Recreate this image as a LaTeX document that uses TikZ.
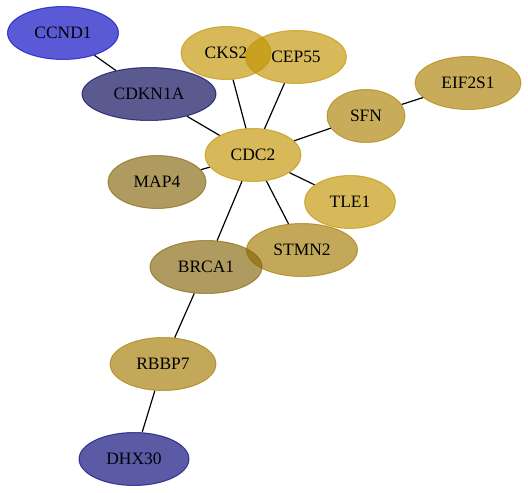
\documentclass[tikz,border=0pt]{standalone}
\usepackage{fontspec}
\setmainfont{Liberation Serif}
\usetikzlibrary{shapes.geometric}
\definecolor{cgoldA}{RGB}{193,147,0}
\definecolor{cgoldB}{RGB}{172,128,0}
\definecolor{cgoldC}{RGB}{163,121,0}
\definecolor{cgoldD}{RGB}{132,101,9}
\definecolor{cblueA}{RGB}{1,1,193}
\definecolor{cblueB}{RGB}{1,1,86}
\definecolor{cblueC}{RGB}{1,1,117}
\tikzset{
  gn/.style={ellipse, inner sep=0pt, fill=#1, fill opacity=0.65, draw=#1, draw opacity=0.65,
    line width=1bp, text opacity=1, text=black, minimum height=53bp,
    font=\fontsize{17.5}{20}\selectfont},
  edge/.style={black, line width=1.2bp}
}
\begin{document}
\begin{tikzpicture}[x=1bp,y=-1bp]
\useasboundingbox (0,0) rectangle (528,493);
% nodes
\node[gn=cblueA, minimum width=111bp] (ccnd1) at (63,33) {CCND1};
\node[gn=cblueB, minimum width=134bp] (cdkn1a) at (149,94) {CDKN1A};
\node[gn=cgoldA, minimum width=90bp] (cks2) at (226,53) {CKS2};
\node[gn=cgoldA, minimum width=101bp] (cep55) at (296,57) {CEP55};
\node[gn=cgoldB, minimum width=78bp] (sfn) at (366,116) {SFN};
\node[gn=cgoldB, minimum width=106bp] (eif2s1) at (468,83) {EIF2S1};
\node[gn=cgoldA, minimum width=96bp] (cdc2) at (253,155) {CDC2};
\node[gn=cgoldD, minimum width=98bp] (map4) at (157,182) {MAP4};
\node[gn=cgoldA, minimum width=91bp] (tle1) at (350,202) {TLE1};
\node[gn=cgoldC, minimum width=111bp] (stmn2) at (302,250) {STMN2};
\node[gn=cgoldD, minimum width=112bp] (brca1) at (206,267) {BRCA1};
\node[gn=cgoldC, minimum width=106bp] (rbbp7) at (163,364) {RBBP7};
\node[gn=cblueC, minimum width=110bp] (dhx30) at (134,459) {DHX30};
% edges
\draw[edge] (ccnd1) -- (cdkn1a);
\draw[edge] (cdkn1a) -- (cdc2);
\draw[edge] (cks2) -- (cdc2);
\draw[edge] (cep55) -- (cdc2);
\draw[edge] (sfn) -- (cdc2);
\draw[edge] (sfn) -- (eif2s1);
\draw[edge] (map4) -- (cdc2);
\draw[edge] (tle1) -- (cdc2);
\draw[edge] (stmn2) -- (cdc2);
\draw[edge] (brca1) -- (cdc2);
\draw[edge] (brca1) -- (rbbp7);
\draw[edge] (rbbp7) -- (dhx30);
\end{tikzpicture}
\end{document}
